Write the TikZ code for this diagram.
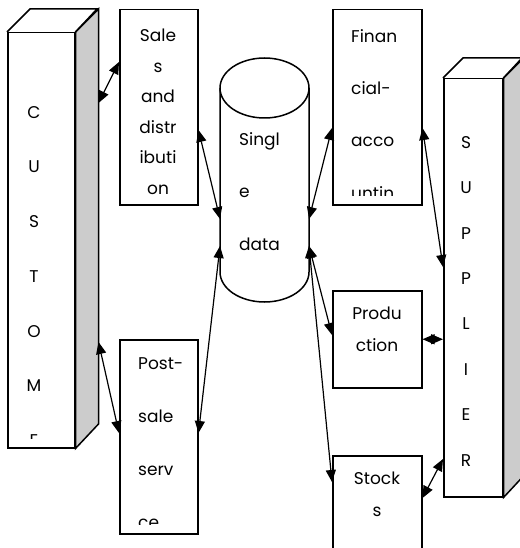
\documentclass[tikz,border=0pt]{standalone}
\usepackage{fontspec}
\setmainfont{Poppins}
\usetikzlibrary{arrows.meta}
\tikzset{
  box/.style={draw, line width=1.5pt, anchor=north west, inner sep=0pt},
  boxtext/.style={inner sep=0pt, anchor=north, align=center, font=\fontsize{17}{#1}\selectfont},
  link/.style={{Triangle[length=12pt,width=10pt]}-{Triangle[length=12pt,width=10pt]}, line width=1.2pt},
  side/.style={draw, line width=1.5pt, fill=gray!40},
}
\begin{document}
\begin{tikzpicture}[x=1pt,y=1pt]
\useasboundingbox (0,0) rectangle (519,-548);
\node[box, minimum width=67pt, minimum height=415pt] (customer) at (7,-32) {};
\draw[side] (customer.north east) -- ++(23,23) -- ++(0,-415) -- (customer.south east) -- cycle;
\draw[line width=1.5pt] (customer.north west) -- ++(23,23) -- ++(67,0) -- (customer.north east);
\node[box, minimum width=59pt, minimum height=418pt] (supplier) at (443,-78) {};
\draw[side] (supplier.north east) -- ++(20,20) -- ++(0,-418) -- (supplier.south east) -- cycle;
\draw[line width=1.5pt] (supplier.north west) -- ++(20,20) -- ++(59,0) -- (supplier.north east);
\node[box, minimum width=78pt, minimum height=195pt] (sales) at (119,-9) {};
\node[box, minimum width=78pt, minimum height=194pt] (post) at (119,-339) {};
\node[box, minimum width=89pt, minimum height=195pt] (fin) at (332,-9) {};
\node[box, minimum width=89pt, minimum height=97pt] (prod) at (332,-290) {};
\node[box, minimum width=89pt, minimum height=120pt] (stock) at (332,-455) {};
\node[minimum width=89pt, minimum height=184pt, inner sep=0pt, outer sep=0pt] (db) at (264.5,-180) {};
\draw[line width=1.5pt] (db.north west) -- (db.south west) arc[start angle=180, end angle=360, x radius=44.5pt, y radius=30pt] -- (db.north east);
\draw[line width=1.5pt] (db.north) ellipse[x radius=44.5pt, y radius=30pt];
\begin{scope}
\clip (customer.north west) rectangle ([yshift=10pt]customer.south east);
\node[boxtext=54.7] (customertext) at (34,-106) {C\\U\\S\\T\\O\\M\\E};
\end{scope}
\node[boxtext=45.4] (suppliertext) at (466,-136) {S\\U\\P\\P\\L\\I\\E\\R};
\node[boxtext=30.5] (salestext) at (158,-29) {Sale\\s\\and\\distr\\ibuti\\on};
\node[boxtext=52.5, anchor=north west, align=left] (dbtext) at (239,-132) {Singl\\e\\data};
\begin{scope}
\clip (fin.north west) rectangle ([yshift=10pt]fin.south east);
\node[boxtext=52.3, anchor=north west, align=left] (fintext) at (351,-29) {Finan\\cial-\\acco\\untin};
\end{scope}
\begin{scope}
\clip (post.north west) rectangle ([yshift=10pt]post.south east);
\node[boxtext=53, anchor=north west, align=left] (posttext) at (138,-357) {Post-\\sale\\serv\\ce};
\end{scope}
\node[boxtext=32] (prodtext) at (377,-307) {Produ\\ction};
\node[boxtext=32] (stocktext) at (377,-472) {Stock\\s};
\draw[link] ([xshift=23pt,yshift=-71pt]customer.north east) -- ([yshift=-53pt]sales.north west);
\draw[link] ([yshift=-121pt]sales.north east) -- ([yshift=-131pt]db.north west);
\draw[link] ([yshift=-158pt]db.north west) -- ([yshift=-94pt]post.north east);
\draw[link] ([xshift=23pt,yshift=-310pt]customer.north east) -- ([yshift=-94pt]post.north west);
\draw[link] ([yshift=-119pt]fin.north west) -- ([yshift=-131pt]db.north east);
\draw[link] ([yshift=-119pt]fin.north east) -- ([yshift=-189pt]supplier.north west);
\draw[link] ([yshift=-158pt]db.north east) -- ([yshift=-45pt]prod.north west);
\draw[link] ([yshift=-158pt]db.north east) -- ([yshift=-27pt]stock.north west);
\draw[link] (prod.east) -- (prod.east -| supplier.west);
\draw[link] ([yshift=-43pt]stock.north east) -- ([yshift=-381pt]supplier.north west);
\end{tikzpicture}
\end{document}
